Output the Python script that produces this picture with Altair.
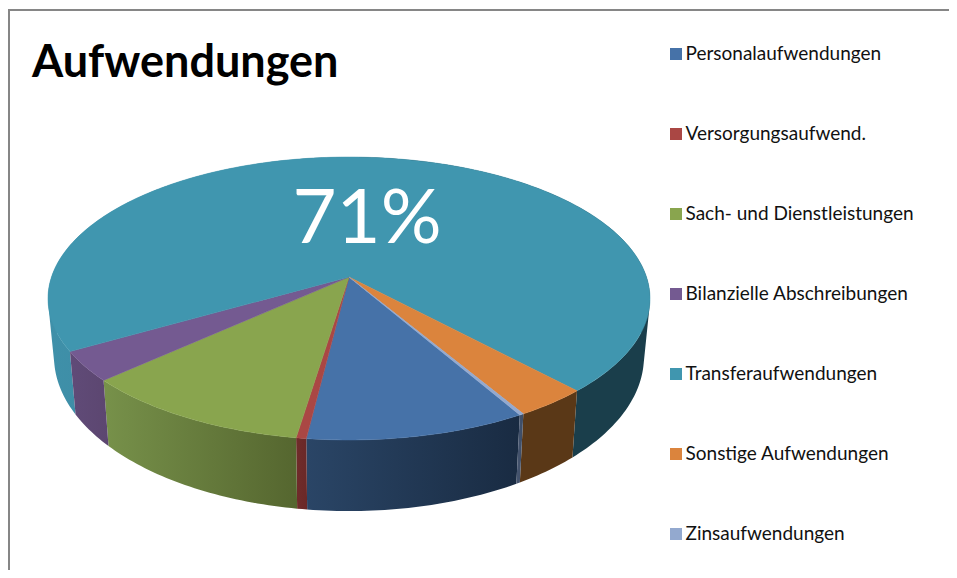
import math
import altair as alt

categories = ["Personalaufwendungen", "Versorgungsaufwend.", "Sach- und Dienstleistungen",
              "Bilanzielle Abschreibungen", "Transferaufwendungen", "Sonstige Aufwendungen",
              "Zinsaufwendungen"]
shares = [10.25, 0.47, 10.86, 3.42, 71.38, 3.42, 0.2]
top_colors = ["#4672A8", "#AA4744", "#89A54E", "#745A91", "#4096AF", "#DB843D", "#93A9CF"]
side_stops = {
    "Personalaufwendungen": ("#2A4566", "#192B42"),
    "Versorgungsaufwend.": ("#702C2B", "#6A2827"),
    "Sach- und Dienstleistungen": ("#77914A", "#55662F"),
    "Bilanzielle Abschreibungen": ("#604B78", "#5C4670"),
    "Sonstige Aufwendungen": ("#5A3817", "#5A3817"),
    "Zinsaufwendungen": ("#46556F", "#3C4C66"),
}
transfer_left = ("#3F90A9", "#388096")
transfer_right = ("#1A3E4B", "#1A3E4B")
start_angle = 150.1
title_text = "Aufwendungen"
big_label = "71%"

# Perspective projection of the pie disc, in canvas pixels (canvas starts at 8,8)
CX, CY, A, B, K = 341.0, 269.0, 297.5, 138.2, 0.152


def top_point(deg):
    t = math.radians(deg)
    X, Y = math.sin(t), math.cos(t)
    w = 1 + K * Y
    return [CX + A * X / w, CY - B * Y / w]


def low_point(deg):
    x, y = top_point(deg)
    return [CX + 0.98 * (x - CX), 1.092 * (y + 8) + 30.6 - 8]


def arc(a0, a1, fn):
    n = max(2, int(abs(a1 - a0)) + 2)
    return [fn(a0 + (a1 - a0) * i / (n - 1)) for i in range(n)]


def ring_area(ring):
    return sum(p[0] * q[1] - q[0] * p[1] for p, q in zip(ring, ring[1:] + ring[:1]))


def feature(name, ring):
    ring = ring + [ring[0]]
    return {"type": "Feature", "properties": {"name": name},
            "geometry": {"type": "Polygon", "coordinates": [ring]}}


spans = {}
angle = start_angle
for name, s in zip(categories, shares):
    spans[name] = (angle, angle + s * 3.6)
    angle += s * 3.6


def side_layer(name, a0, a1, stops):
    upper = arc(a0, a1, top_point)
    lower = arc(a0, a1, low_point)
    quads = []
    for i in range(len(upper) - 1):
        quad = [upper[i], upper[i + 1], lower[i + 1], lower[i]]
        if ring_area(quad) < 0:
            quad = quad[::-1]
        quads.append([quad + [quad[0]]])
    shape = {"type": "Feature", "properties": {"name": name},
             "geometry": {"type": "MultiPolygon", "coordinates": quads}}
    gradient = alt.LinearGradient(gradient="linear", x1=0, x2=1, y1=0, y2=0,
                                  stops=[alt.GradientStop(color=stops[0], offset=0),
                                         alt.GradientStop(color=stops[1], offset=1)])
    return alt.Chart(alt.Data(values=[shape])).mark_geoshape(
        fill=gradient, strokeWidth=0).project(type="identity", scale=1, translate=[0, 0])


sides = []
t0, t1 = spans["Transferaufwendungen"]
sides.append(side_layer("t-left", t0, 360, transfer_left))
sides.append(side_layer("t-right", 360, t1, transfer_right))
for name, stops in side_stops.items():
    sides.append(side_layer(name, spans[name][0], spans[name][1], stops))

faces = []
for name in categories:
    a0, a1 = spans[name]
    faces.append(feature(name, [[CX, CY]] + arc(a0, a1, top_point)))

color_scale = alt.Scale(domain=categories, range=top_colors)
top = alt.Chart(alt.Data(values=faces)).mark_geoshape(strokeWidth=0.5).encode(
    color=alt.Color("properties.name:N", scale=color_scale,
                    legend=alt.Legend(
                        title=None, orient="none", legendX=658.5, legendY=36.5,
                        symbolType="square", symbolSize=144, symbolStrokeWidth=0,
                        labelFont="Lato", labelFontSize=19, labelColor="#111111",
                        labelOffset=0, rowPadding=60, labelLimit=300,
                    )),
    stroke=alt.Stroke("properties.name:N", scale=color_scale, legend=None),
).project(type="identity", scale=1, translate=[0, 0])

frame_top = alt.Chart().mark_rule(color="#868686", strokeWidth=2).encode(
    x=alt.value(0), x2=alt.value(941), y=alt.value(2))
frame_left = alt.Chart().mark_rule(color="#868686", strokeWidth=2).encode(
    x=alt.value(1), y=alt.value(2), y2=alt.value(562))
title = alt.Chart().mark_text(font="Lato", fontWeight="bold", fontSize=45, color="#000000",
                              align="left", baseline="alphabetic").encode(
    text=alt.value(title_text), x=alt.value(24), y=alt.value(69))
big = alt.Chart().mark_text(font="Lato", fontWeight=400, fontSize=76, color="#FFFFFF",
                            align="center", baseline="alphabetic").encode(
    text=alt.value(big_label), x=alt.value(359), y=alt.value(235))

chart = alt.layer(frame_top, frame_left, *sides, top, title, big).properties(
    width=941, height=562, padding=0,
    autosize=alt.AutoSizeParams(type="none"),
).configure_view(stroke=None)

chart.save("out.html", embed_options={"renderer": "svg", "actions": False})
